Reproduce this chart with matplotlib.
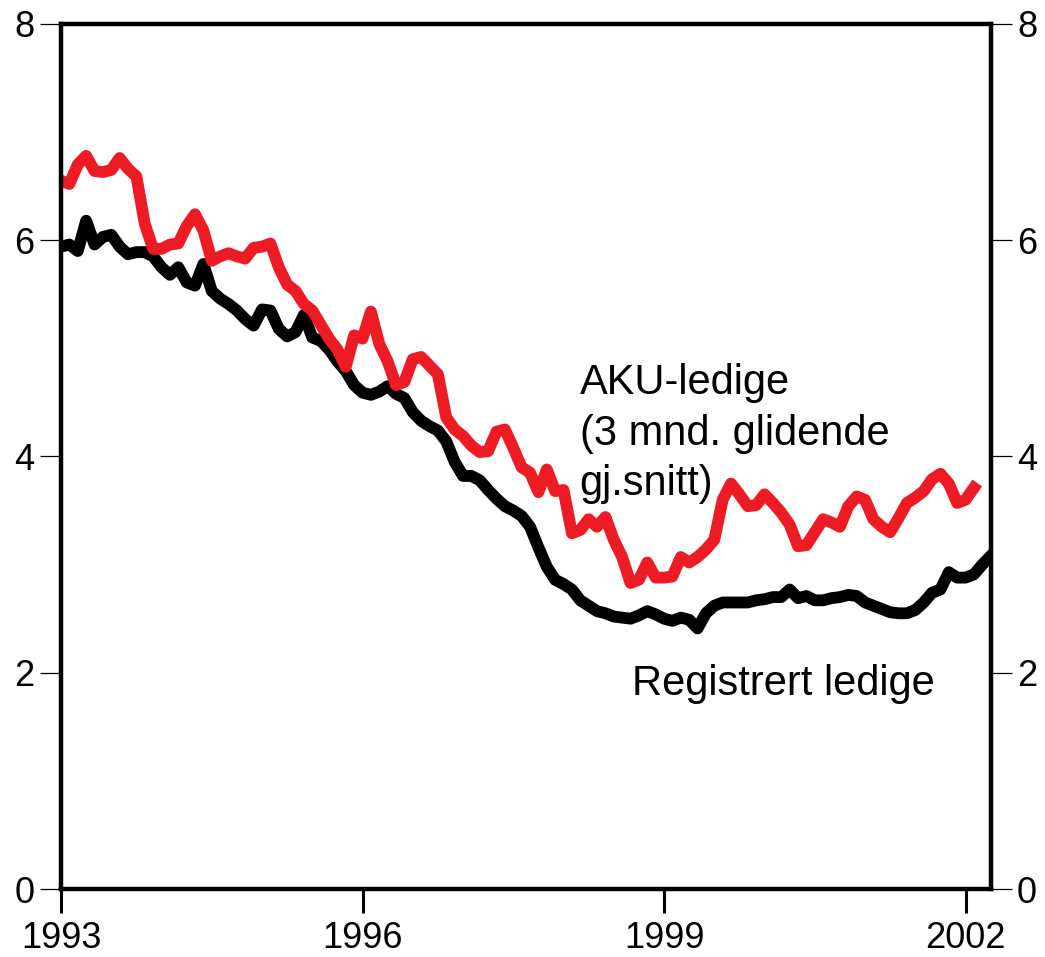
import numpy as np
import matplotlib
matplotlib.use("Agg")
import matplotlib.pyplot as plt

plt.rcParams['font.family'] = ['Liberation Sans', 'DejaVu Sans']

# monthly values from Jan 1993, percent of labour force
registrert = [
    5.94, 5.96, 5.90, 6.18, 5.96, 6.03, 6.05, 5.94, 5.87, 5.89, 5.89, 5.85,
    5.75, 5.68, 5.75, 5.61, 5.58, 5.78, 5.53, 5.46, 5.41, 5.35, 5.27, 5.21,
    5.36, 5.35, 5.18, 5.11, 5.15, 5.31, 5.10, 5.07, 4.99, 4.88, 4.79, 4.66,
    4.59, 4.57, 4.60, 4.65, 4.58, 4.54, 4.41, 4.33, 4.28, 4.24, 4.14, 3.95,
    3.82, 3.82, 3.78, 3.69, 3.61, 3.54, 3.50, 3.45, 3.35, 3.16, 2.98, 2.86,
    2.82, 2.77, 2.67, 2.62, 2.57, 2.55, 2.52, 2.51, 2.50, 2.53, 2.57, 2.54,
    2.50, 2.48, 2.51, 2.49, 2.41, 2.55, 2.62, 2.65, 2.65, 2.65, 2.65, 2.67,
    2.68, 2.70, 2.70, 2.77, 2.69, 2.71, 2.67, 2.67, 2.69, 2.70, 2.72, 2.71,
    2.65, 2.62, 2.59, 2.56, 2.55, 2.55, 2.58, 2.65, 2.74, 2.77, 2.93, 2.88,
    2.88, 2.91, 3.00, 3.08,
]
aku = [
    6.55, 6.52, 6.70, 6.78, 6.64, 6.63, 6.65, 6.76, 6.66, 6.59, 6.15, 5.92,
    5.92, 5.96, 5.97, 6.13, 6.24, 6.09, 5.81, 5.85, 5.88, 5.85, 5.83, 5.93,
    5.94, 5.97, 5.75, 5.59, 5.53, 5.41, 5.35, 5.22, 5.09, 4.99, 4.83, 5.12,
    5.09, 5.34, 5.04, 4.88, 4.66, 4.69, 4.90, 4.92, 4.84, 4.76, 4.36, 4.25,
    4.19, 4.10, 4.04, 4.05, 4.23, 4.25, 4.08, 3.90, 3.85, 3.67, 3.88, 3.68,
    3.69, 3.29, 3.32, 3.42, 3.35, 3.44, 3.23, 3.07, 2.83, 2.86, 3.02, 2.88,
    2.88, 2.89, 3.07, 3.02, 3.07, 3.14, 3.23, 3.60, 3.75, 3.65, 3.54, 3.55,
    3.65, 3.57, 3.48, 3.37, 3.17, 3.18, 3.30, 3.42, 3.39, 3.35, 3.54, 3.63,
    3.60, 3.42, 3.35, 3.30, 3.43, 3.57, 3.62, 3.68, 3.79, 3.84, 3.75, 3.57,
    3.60, 3.71,
]
year_ticks = [1993, 1996, 1999, 2002]
y_ticks = [0, 2, 4, 6, 8]

t_reg = 1993 + np.arange(len(registrert)) / 12
t_aku = 1993 + np.arange(len(aku)) / 12

fig = plt.figure(figsize=(10.45, 9.57), dpi=100)
ax = fig.add_axes([0.0584, 0.071, 0.8896, 0.904])

ax.plot(t_reg, registrert, color='black', lw=8.5, solid_joinstyle='round')
ax.plot(t_aku, aku, color='#ED1C24', lw=8.5, solid_joinstyle='round')

ax.set_xlim(1993, 2002.25)
ax.set_ylim(0, 8)
ax.set_xticks(year_ticks)
ax.set_xticklabels([str(y) for y in year_ticks])
ax.set_yticks(y_ticks)

for s in ax.spines.values():
    s.set_linewidth(3.2)

ax.tick_params(axis='x', direction='out', length=17, width=2.2, pad=6,
               labelsize=26)
ax.tick_params(axis='y', direction='out', length=15, width=0.9, pad=4,
               labelsize=26, left=True, right=True,
               labelleft=True, labelright=True)

ax.text(1998.16, 4.86, 'AKU-ledige\n(3 mnd. glidende\ngj.snitt)',
        fontsize=30, ha='left', va='top', linespacing=1.33)
ax.text(1998.68, 1.9, 'Registrert ledige', fontsize=30,
        ha='left', va='center')

fig.savefig('out.png', dpi=100)
